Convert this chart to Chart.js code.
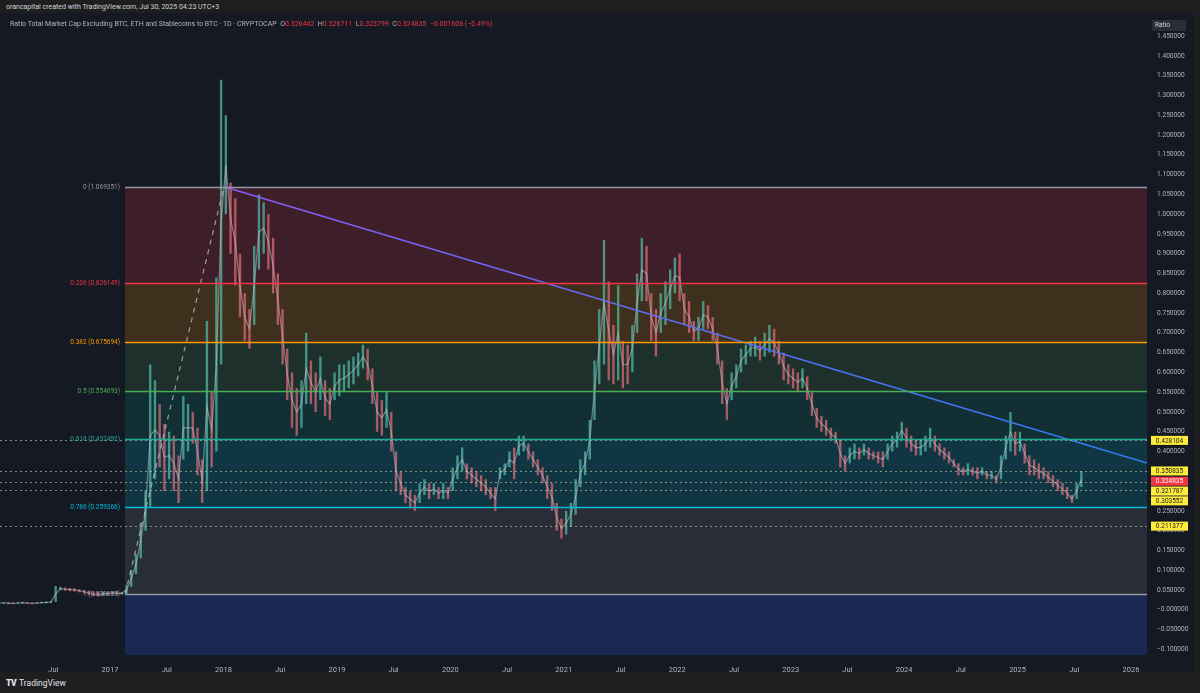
<!DOCTYPE html>
<html>
<head>
<meta charset="utf-8">
<script src="https://cdn.jsdelivr.net/npm/chart.js@4.4.1/dist/chart.umd.min.js"></script>
<style>
    html, body { margin: 0; padding: 0; width: 1200px; height: 693px; overflow: hidden; background: #1e1e1e; font-family: Roboto, "Liberation Sans", sans-serif; }
    #credit { position: absolute; left: 6px; top: 3px; font-size: 7px; color: #d1d4dc; white-space: nowrap; }
    #pane { position: absolute; left: 0; top: 13px; width: 1194px; height: 659px; background: #151924; }
    #legend { position: absolute; left: 10px; top: 20px; font-size: 7px; color: #b2b5be; white-space: nowrap; }
    #legend .v { color: #f23645; }
    #footer { position: absolute; left: 6px; top: 678px; font-size: 8.5px; color: #e0e3eb; white-space: nowrap; }
    #footer b { font-weight: 900; letter-spacing: -0.5px; margin-right: 3px; }
</style>
</head>
<body>
<div id="credit">orancapital created with TradingView.com, Jul 30, 2025 04:23 UTC+3</div>
<div id="pane"><canvas id="ratioChart" width="1194" height="659"></canvas></div>
<div id="legend">Ratio Total Market Cap Excluding BTC, ETH and Stablecoins to BTC · 1D · CRYPTOCAP &nbsp;O<span class="v">0.326442</span> &nbsp;H<span class="v">0.326711</span> &nbsp;L<span class="v">0.323799</span> &nbsp;C<span class="v">0.324835</span> &nbsp;<span class="v">−0.001608 (−0.49%)</span></div>
<div id="footer"><b>TV</b>TradingView</div>
<script>
// half-month periods starting Jan 2016
const startYear = 2016;
const periodsPerYear = 24;

const periodHigh = [
    0.020, 0.019, 0.019, 0.018, 0.019, 0.020, 0.019, 0.018, 0.019, 0.020, 0.021, 0.022, 0.060, 0.058, 0.056, 0.055, 0.054, 0.052, 0.050, 0.048, 0.046, 0.045, 0.046, 0.045, // 2016
    0.047, 0.046, 0.045, 0.062, 0.100, 0.140, 0.220, 0.300, 0.620, 0.580, 0.520, 0.470, 0.450, 0.440, 0.390, 0.540, 0.520, 0.500, 0.460, 0.380, 0.730, 0.550, 0.840, 1.340, // 2017
    1.250, 1.080, 1.040, 0.900, 0.800, 0.760, 0.920, 1.050, 1.030, 1.000, 0.940, 0.850, 0.760, 0.660, 0.600, 0.560, 0.580, 0.700, 0.630, 0.600, 0.640, 0.580, 0.560, 0.600, // 2018
    0.620, 0.620, 0.630, 0.640, 0.650, 0.670, 0.660, 0.610, 0.550, 0.530, 0.550, 0.500, 0.400, 0.350, 0.310, 0.300, 0.290, 0.320, 0.330, 0.320, 0.320, 0.310, 0.320, 0.310, // 2019
    0.360, 0.390, 0.410, 0.370, 0.360, 0.350, 0.340, 0.330, 0.310, 0.310, 0.360, 0.370, 0.400, 0.410, 0.440, 0.440, 0.420, 0.400, 0.380, 0.360, 0.340, 0.320, 0.270, 0.230, // 2020
    0.250, 0.270, 0.330, 0.380, 0.400, 0.480, 0.630, 0.760, 0.935, 0.830, 0.720, 0.820, 0.680, 0.670, 0.720, 0.850, 0.940, 0.920, 0.800, 0.760, 0.800, 0.830, 0.860, 0.890, // 2021
    0.900, 0.800, 0.780, 0.730, 0.740, 0.780, 0.770, 0.740, 0.700, 0.630, 0.560, 0.600, 0.620, 0.660, 0.670, 0.680, 0.690, 0.680, 0.700, 0.720, 0.710, 0.680, 0.650, 0.620, // 2022
    0.610, 0.600, 0.610, 0.590, 0.550, 0.510, 0.490, 0.480, 0.460, 0.450, 0.430, 0.390, 0.410, 0.420, 0.410, 0.420, 0.410, 0.400, 0.400, 0.400, 0.420, 0.440, 0.450, 0.475, // 2023
    0.460, 0.440, 0.430, 0.430, 0.440, 0.460, 0.440, 0.420, 0.410, 0.400, 0.380, 0.370, 0.360, 0.370, 0.360, 0.360, 0.360, 0.350, 0.350, 0.340, 0.390, 0.440, 0.500, 0.450, // 2024
    0.450, 0.420, 0.390, 0.380, 0.370, 0.360, 0.350, 0.340, 0.330, 0.320, 0.310, 0.290, 0.320, 0.350                                                                          // 2025
];
const periodLow = [
    0.014, 0.015, 0.014, 0.014, 0.015, 0.016, 0.015, 0.014, 0.015, 0.016, 0.016, 0.017, 0.020, 0.049, 0.048, 0.047, 0.046, 0.044, 0.041, 0.037, 0.034, 0.033, 0.035, 0.036, // 2016
    0.038, 0.037, 0.038, 0.040, 0.058, 0.090, 0.130, 0.200, 0.260, 0.330, 0.360, 0.300, 0.330, 0.300, 0.270, 0.380, 0.400, 0.420, 0.340, 0.270, 0.300, 0.360, 0.400, 0.620, // 2017
    1.000, 0.900, 0.820, 0.740, 0.680, 0.660, 0.720, 0.860, 0.900, 0.860, 0.800, 0.720, 0.620, 0.530, 0.460, 0.440, 0.460, 0.520, 0.520, 0.500, 0.530, 0.490, 0.480, 0.530, // 2018
    0.540, 0.550, 0.560, 0.570, 0.590, 0.610, 0.580, 0.520, 0.450, 0.440, 0.460, 0.400, 0.300, 0.290, 0.270, 0.260, 0.250, 0.270, 0.290, 0.280, 0.290, 0.280, 0.280, 0.280, // 2019
    0.300, 0.330, 0.350, 0.330, 0.320, 0.310, 0.300, 0.290, 0.280, 0.250, 0.330, 0.340, 0.360, 0.330, 0.390, 0.400, 0.380, 0.360, 0.340, 0.320, 0.280, 0.250, 0.200, 0.180, // 2020
    0.190, 0.210, 0.240, 0.310, 0.340, 0.380, 0.480, 0.570, 0.620, 0.580, 0.570, 0.580, 0.560, 0.570, 0.600, 0.700, 0.780, 0.780, 0.680, 0.640, 0.700, 0.720, 0.760, 0.800, // 2021
    0.780, 0.720, 0.700, 0.680, 0.680, 0.710, 0.710, 0.680, 0.620, 0.520, 0.480, 0.530, 0.560, 0.600, 0.620, 0.640, 0.640, 0.630, 0.640, 0.650, 0.640, 0.620, 0.580, 0.570, // 2022
    0.560, 0.550, 0.560, 0.530, 0.490, 0.460, 0.450, 0.440, 0.430, 0.420, 0.360, 0.350, 0.370, 0.380, 0.380, 0.390, 0.380, 0.380, 0.370, 0.360, 0.380, 0.400, 0.410, 0.430, // 2023
    0.410, 0.400, 0.390, 0.390, 0.400, 0.410, 0.400, 0.390, 0.380, 0.370, 0.360, 0.340, 0.340, 0.340, 0.340, 0.330, 0.340, 0.330, 0.330, 0.320, 0.330, 0.380, 0.400, 0.390, // 2024
    0.400, 0.370, 0.340, 0.340, 0.330, 0.330, 0.320, 0.310, 0.300, 0.290, 0.280, 0.270, 0.280, 0.310                                                                          // 2025
];

// fibonacci retracement drawn from Feb 2017 low to Jan 2018 high
const fibRatios = ['0', '0.236', '0.382', '0.5', '0.618', '0.786', '1'];
const fibValues = [1.069351, 0.826149, 0.675694, 0.554093, 0.432492, 0.259366, 0.038835];
const fibColors = ['#9598a1', '#f23645', '#ff9800', '#4caf50', '#22ab94', '#00bcd4', '#9598a1'];
const fibFills = ['rgba(242,54,69,0.18)', 'rgba(255,152,0,0.18)', 'rgba(76,175,80,0.16)', 'rgba(8,153,129,0.18)', 'rgba(0,188,212,0.18)', 'rgba(120,123,134,0.2)', 'rgba(41,98,255,0.22)'];
const fibStartX = 2017.132;
const fibEndX = 2018.005;

// descending trend line from the 2018 top
const trendX = [2018.005, 2026.141];
const trendY = [1.069351, 0.371];

// horizontal rays and the last price
const rayLevels = [0.428104, 0.350835, 0.321787, 0.303552, 0.211377];
const lastPrice = 0.324835;

const xTickValues = [2016.5, 2017, 2017.5, 2018, 2018.5, 2019, 2019.5, 2020, 2020.5, 2021, 2021.5, 2022, 2022.5, 2023, 2023.5, 2024, 2024.5, 2025, 2025.5, 2026];
const xTickLabels = ['Jul', '2017', 'Jul', '2018', 'Jul', '2019', 'Jul', '2020', 'Jul', '2021', 'Jul', '2022', 'Jul', '2023', 'Jul', '2024', 'Jul', '2025', 'Jul', '2026'];
const yTickValues = [-0.1, -0.05, 0, 0.05, 0.1, 0.15, 0.2, 0.25, 0.3, 0.35, 0.4, 0.45, 0.5, 0.55, 0.6, 0.65, 0.7, 0.75, 0.8, 0.85, 0.9, 0.95, 1.0, 1.05, 1.1, 1.15, 1.2, 1.25, 1.3, 1.35, 1.4, 1.45];

const upColor = 'rgba(84,190,170,0.72)';
const downColor = 'rgba(226,110,122,0.72)';
const FONT = 'Roboto, "Liberation Sans", sans-serif';

const candles = periodHigh.map(function (h, i) {
    return { x: startYear + (i + 0.5) / periodsPerYear, y: [periodLow[i], h] };
});
const midLine = periodHigh.map(function (h, i) {
    return { x: startYear + (i + 0.5) / periodsPerYear, y: (h + periodLow[i]) / 2 };
});

function fmtPrice(v) {
    const s = Math.abs(v).toFixed(6);
    return (v <= 0) ? '\u2212' + s : s;
}

const fibPlugin = {
    id: 'fibPlugin',
    beforeDatasetsDraw(chart) {
        const { ctx, chartArea, scales } = chart;
        const x0 = scales.x.getPixelForValue(fibStartX);
        ctx.save();
        ctx.beginPath();
        ctx.rect(chartArea.left, chartArea.top, chartArea.width, chartArea.height);
        ctx.clip();
        for (let i = 0; i < fibValues.length; i++) {
            const yTop = scales.y.getPixelForValue(fibValues[i]);
            const yBot = i + 1 < fibValues.length ? scales.y.getPixelForValue(fibValues[i + 1]) : chartArea.bottom;
            ctx.fillStyle = fibFills[i];
            ctx.fillRect(x0, yTop, chartArea.right - x0, yBot - yTop);
        }
        ctx.restore();
    },
    afterDatasetsDraw(chart) {
        const { ctx, chartArea, scales } = chart;
        const x0 = scales.x.getPixelForValue(fibStartX);
        ctx.save();

        // horizontal rays
        ctx.setLineDash([2, 3]);
        ctx.lineWidth = 1;
        ctx.strokeStyle = 'rgba(215,210,165,0.6)';
        rayLevels.forEach(function (v) {
            const y = Math.round(scales.y.getPixelForValue(v)) + 0.5;
            ctx.beginPath();
            ctx.moveTo(chartArea.left, y);
            ctx.lineTo(chartArea.right, y);
            ctx.stroke();
        });
        ctx.setLineDash([]);

        // fib levels and their labels
        ctx.font = '6.5px ' + FONT;
        ctx.textAlign = 'right';
        ctx.textBaseline = 'middle';
        fibValues.forEach(function (v, i) {
            const y = Math.round(scales.y.getPixelForValue(v)) + 0.5;
            ctx.strokeStyle = fibColors[i];
            ctx.lineWidth = 1.3;
            ctx.beginPath();
            ctx.moveTo(x0, y);
            ctx.lineTo(chartArea.right, y);
            ctx.stroke();
            ctx.fillStyle = fibColors[i];
            ctx.fillText(fibRatios[i] + ' (' + v.toFixed(6) + ')', x0 - 5, y);
        });

        // price scale labels, pushed apart like TradingView does
        const boxes = rayLevels.map(function (v) { return { v: v, bg: '#ffeb3b', fg: '#131722' }; });
        boxes.push({ v: lastPrice, bg: '#f23645', fg: '#ffffff' });
        boxes.sort(function (a, b) { return b.v - a.v; });
        let prevY = -100;
        const bx = chartArea.right + 4;
        const bw = 37, bh = 9;
        ctx.textAlign = 'center';
        boxes.forEach(function (b) {
            let y = scales.y.getPixelForValue(b.v);
            if (y < prevY + bh + 0.8) y = prevY + bh + 0.8;
            prevY = y;
            ctx.fillStyle = b.bg;
            ctx.fillRect(bx, y - bh / 2, bw, bh);
            ctx.fillStyle = b.fg;
            ctx.fillText(b.v.toFixed(6), bx + bw / 2, y + 0.5);
        });

        // scale title
        ctx.fillStyle = '#2a2e39';
        ctx.fillRect(bx + 1, chartArea.top + 6, 34, 11);
        ctx.fillStyle = '#d1d4dc';
        ctx.textAlign = 'left';
        ctx.fillText('Ratio', bx + 4, chartArea.top + 11.5);
        ctx.restore();
    }
};

const trendGradient = function (context) {
    const chart = context.chart;
    const area = chart.chartArea;
    if (!area) return '#6d63f5';
    const x1 = chart.scales.x.getPixelForValue(trendX[0]);
    const g = chart.ctx.createLinearGradient(x1, 0, area.right, 0);
    g.addColorStop(0, '#8a5cf6');
    g.addColorStop(1, '#2f7df6');
    return g;
};

function noEdgePadding(scale) {
    scale.paddingLeft = 0;
    scale.paddingRight = 0;
    scale.paddingTop = 0;
    scale.paddingBottom = 0;
}

const config = {
    data: {
        datasets: [
            {
                type: 'line',
                data: [{ x: trendX[0], y: trendY[0] }, { x: trendX[1], y: trendY[1] }],
                borderColor: trendGradient,
                borderWidth: 1.6,
                pointRadius: 0,
                order: 0
            },
            {
                type: 'line',
                data: [{ x: fibStartX, y: fibValues[6] }, { x: fibEndX, y: fibValues[0] }],
                borderColor: 'rgba(190,193,200,0.75)',
                borderWidth: 1.2,
                borderDash: [5, 5],
                pointRadius: 0,
                order: 1
            },
            {
                type: 'line',
                data: midLine,
                borderColor: 'rgba(196,190,200,0.55)',
                borderWidth: 1.2,
                tension: 0,
                pointRadius: 0,
                order: 2
            },
            {
                type: 'bar',
                data: candles,
                backgroundColor: function (c) {
                    const i = c.dataIndex;
                    if (i === 0) return upColor;
                    const mid = periodHigh[i] + periodLow[i];
                    const prev = periodHigh[i - 1] + periodLow[i - 1];
                    return mid >= prev ? upColor : downColor;
                },
                borderWidth: 0,
                barPercentage: 0.5,
                categoryPercentage: 1,
                order: 3
            }
        ]
    },
    options: {
        responsive: false,
        animation: false,
        layout: { padding: { top: 1, left: 0, right: 0, bottom: 0 } },
        plugins: {
            legend: { display: false },
            tooltip: { enabled: false }
        },
        scales: {
            x: {
                type: 'linear',
                offset: false,
                min: 2016.03,
                max: 2026.141,
                grid: { display: false, offset: false },
                border: { display: false },
                afterBuildTicks: function (scale) {
                    scale.ticks = xTickValues.map(function (v) { return { value: v }; });
                },
                afterFit: function (scale) { scale.height = 17; noEdgePadding(scale); },
                ticks: {
                    autoSkip: false,
                    maxRotation: 0,
                    padding: 3,
                    color: '#b2b5be',
                    font: { family: FONT, size: 7.5 },
                    callback: function (v) {
                        const k = xTickValues.indexOf(v);
                        return k >= 0 ? xTickLabels[k] : '';
                    }
                }
            },
            y: {
                type: 'linear',
                position: 'right',
                min: -0.1144,
                max: 1.506,
                grid: { display: false, drawTicks: false },
                border: { display: false },
                afterBuildTicks: function (scale) {
                    scale.ticks = yTickValues.map(function (v) { return { value: v }; });
                },
                afterFit: function (scale) { scale.width = 47; noEdgePadding(scale); },
                ticks: {
                    autoSkip: false,
                    padding: 10,
                    color: '#b2b5be',
                    font: { family: FONT, size: 6.6 },
                    callback: function (v) { return fmtPrice(Math.round(v * 1000) / 1000); }
                }
            }
        }
    },
    plugins: [fibPlugin]
};

new Chart(document.getElementById('ratioChart'), config);
</script>
</body>
</html>
